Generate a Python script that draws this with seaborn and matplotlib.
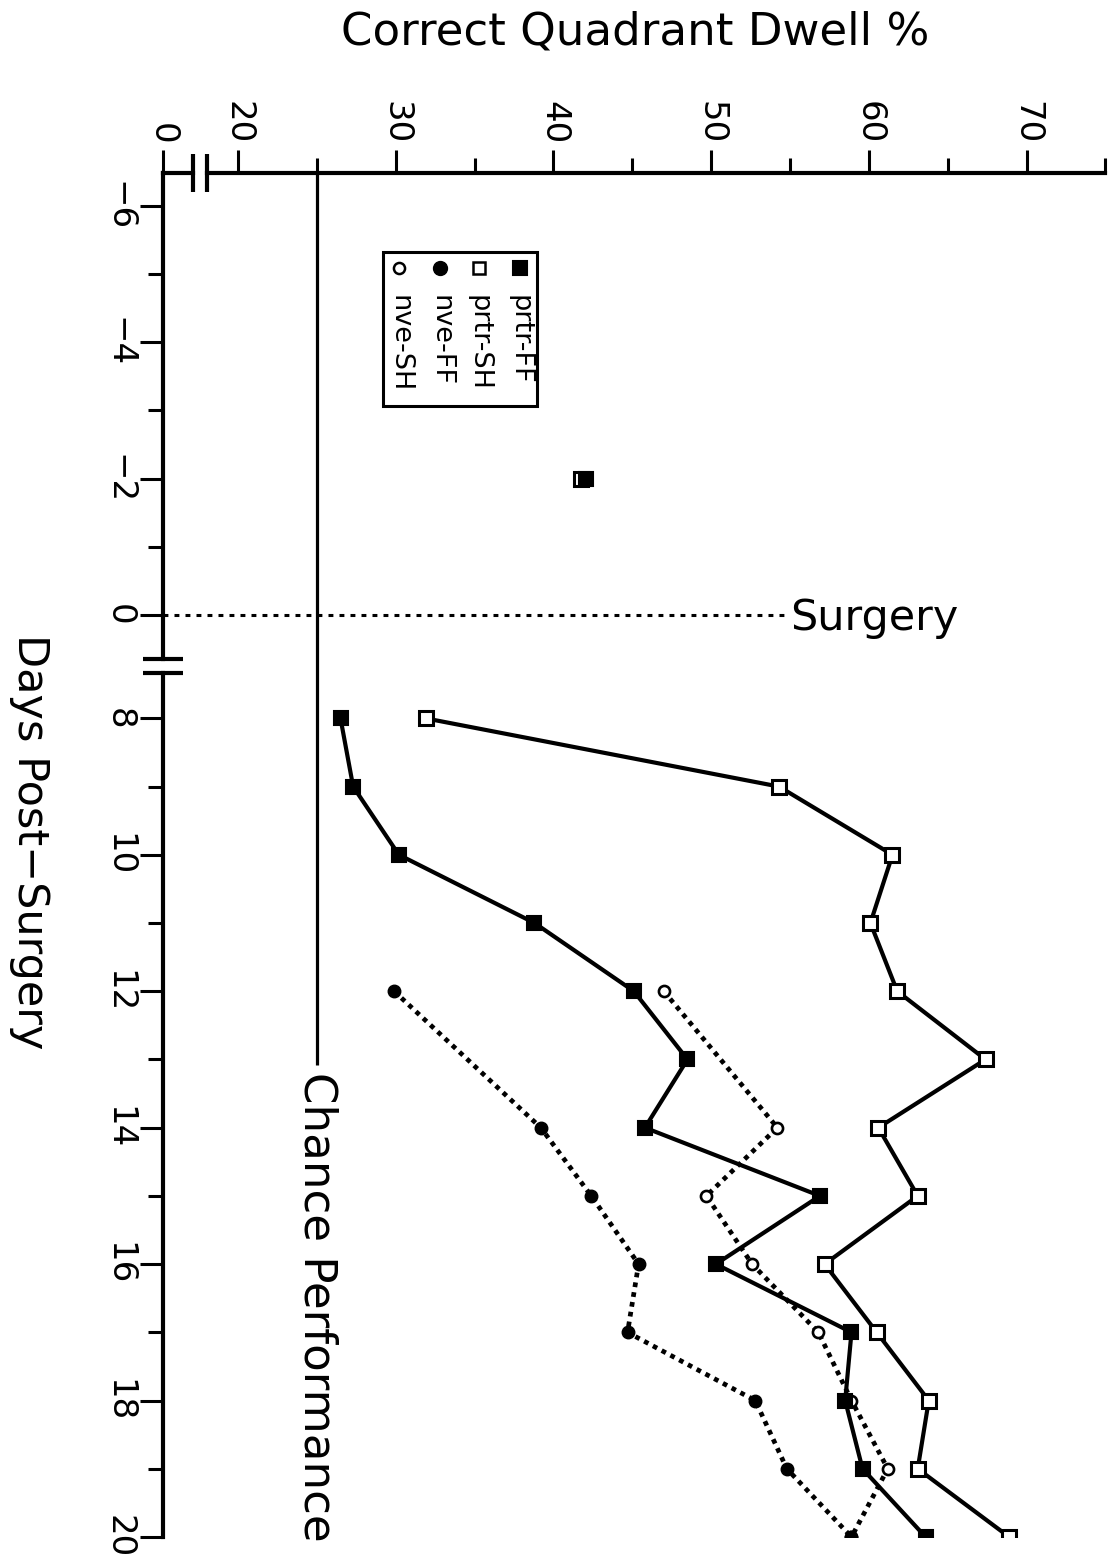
import numpy as np
import pandas as pd
import matplotlib
matplotlib.use("Agg")
import matplotlib.pyplot as plt
from matplotlib.patches import Rectangle
import seaborn as sns

# ---------------- data ----------------
days_pre = [-2]
prtr_ff_pre = [42.06]
prtr_sh_pre = [41.76]

days_prtr = [8, 9, 10, 11, 12, 13, 14, 15, 16, 17, 18, 19, 20]
prtr_ff = [26.5, 27.3, 30.2, 38.8, 45.1, 48.5, 45.8, 56.9, 50.3, 58.9, 58.5, 59.6, 63.6]
prtr_sh = [31.9, 54.3, 61.5, 60.1, 61.8, 67.4, 60.6, 63.1, 57.2, 60.5, 63.8, 63.1, 68.9]

days_nve = [12, 14, 15, 16, 17, 18, 19, 20]
nve_ff = [29.9, 39.2, 42.4, 45.4, 44.7, 52.8, 54.8, 58.9]
nve_sh = [47.0, 54.2, 49.7, 52.6, 56.8, 58.9, 61.2, 58.9]

series_names = ["prtr-FF", "prtr-SH", "nve-FF", "nve-SH"]
chance_level = 25
surgery_day = 0

x_major = [0, 20, 30, 40, 50, 60, 70]
x_minor = [25, 35, 45, 55, 65, 75]
y_major = [-6, -4, -2, 0, 8, 10, 12, 14, 16, 18, 20]
y_minor = [-5, -3, -1, 9, 11, 13, 15, 17, 19]
y_major_labels = ["\u22126", "\u22124", "\u22122", "0", "8", "10", "12", "14", "16", "18", "20"]

# ---------------- broken scales ----------------
XB, XS = 15.225, 4.775   # 0..20 compressed


def fwd_x(x):
    x = np.asarray(x, dtype=float)
    return np.where(x < 20, XB + x * XS / 20.0, x)


def inv_x(t):
    t = np.asarray(t, dtype=float)
    return np.where(t < 20, (t - XB) * 20.0 / XS, t)


YG = 1.514  # 0..8 days compressed


def fwd_y(d):
    d = np.asarray(d, dtype=float)
    return np.where(d <= 0, d, np.where(d < 8, d * YG / 8.0, d - 8 + YG))


def inv_y(t):
    t = np.asarray(t, dtype=float)
    return np.where(t <= 0, t, np.where(t < YG, t * 8.0 / YG, t + 8 - YG))


sns.set_theme(style="ticks")
plt.rcParams["font.family"] = ["DejaVu Sans"]
plt.rcParams["text.color"] = "black"
plt.rcParams["xtick.color"] = "black"
plt.rcParams["ytick.color"] = "black"

fig = plt.figure(figsize=(11.13, 15.61), dpi=100)
ax = fig.add_axes([0.14618, 0.015375, 0.84699, 0.87380])
ax.set_xscale("function", functions=(fwd_x, inv_x))
ax.set_yscale("function", functions=(fwd_y, inv_y))

styles = {
    "nve-SH": dict(marker="o", markersize=8, markerfacecolor="white", markeredgewidth=1.9,
                   linestyle=(0, (1, 1.1)), linewidth=3.4),
    "nve-FF": dict(marker="o", markersize=9, markerfacecolor="black", markeredgewidth=1.0,
                   linestyle=(0, (1, 1.1)), linewidth=3.4),
    "prtr-SH": dict(marker="s", markersize=9.5, markerfacecolor="white", markeredgewidth=2.2,
                    linestyle="-", linewidth=3.0),
    "prtr-FF": dict(marker="s", markersize=10, markerfacecolor="black", markeredgewidth=1.5,
                    linestyle="-", linewidth=3.0),
}
post = {
    "nve-SH": (days_nve, nve_sh),
    "nve-FF": (days_nve, nve_ff),
    "prtr-SH": (days_prtr, prtr_sh),
    "prtr-FF": (days_prtr, prtr_ff),
}
pre = {"prtr-SH": (days_pre, prtr_sh_pre), "prtr-FF": (days_pre, prtr_ff_pre)}

for name in ["nve-SH", "nve-FF", "prtr-SH", "prtr-FF"]:
    d, v = post[name]
    df = pd.DataFrame({"dwell": v, "day": d})
    sns.lineplot(data=df, x="dwell", y="day", orient="y", sort=False, estimator=None,
                 ax=ax, color="black", markeredgecolor="black", **styles[name])

for name in ["prtr-SH", "prtr-FF"]:
    d, v = pre[name]
    st = styles[name]
    df = pd.DataFrame({"dwell": v, "day": d})
    sns.lineplot(data=df, x="dwell", y="day", orient="y", sort=False, estimator=None,
                 ax=ax, color="black", markeredgecolor="black",
                 marker=st["marker"], markersize=st["markersize"],
                 markerfacecolor=st["markerfacecolor"], markeredgewidth=st["markeredgewidth"],
                 linestyle="none")

ax.set_xlim(0, 75)
y_top = -6.48
ax.set_ylim(20, y_top)
ax.set_xlabel("")
ax.set_ylabel("")
ax.grid(False)

# chance line and label
chance_end = 13.08
ax.plot([chance_level, chance_level], [y_top, chance_end], color="black", lw=2.3,
        solid_capstyle="butt", clip_on=False)
ax.text(chance_level, 13.19, "Chance Performance", rotation=-90, ha="center", va="top",
        fontsize=32.5, color="black")

# surgery line and label
ax.plot([0, 54.7], [surgery_day, surgery_day], color="black", lw=2.2,
        linestyle=(0, (1.6, 2.0)))
ax.text(55.0, 1.16, "Surgery", ha="left", va="baseline", fontsize=31, color="black")

# ---------------- axes lines with breaks ----------------
for s in ax.spines.values():
    s.set_visible(False)
lw_ax = 3.0
kw = dict(color="black", lw=lw_ax, clip_on=False, solid_capstyle="projecting", zorder=5)
ax.plot([0, 8.13], [y_top, y_top], **kw)
ax.plot([11.84, 75], [y_top, y_top], **kw)
ax.plot([0, 0], [y_top, 3.41], **kw)
ax.plot([0, 0], [4.52, 20], **kw)
kwb = dict(color="black", lw=lw_ax, clip_on=False, solid_capstyle="butt", zorder=5)
for xb in [8.13, 11.84]:
    ax.plot([xb, xb], [-6.76, -6.207], **kwb)
for yb in [3.41, 4.52]:
    ax.plot([-5.15, 5.31], [yb, yb], **kwb)

# ---------------- ticks ----------------
ax.set_xticks(x_major)
ax.set_xticklabels([str(v) for v in x_major])
ax.set_xticks(x_minor, minor=True)
ax.set_yticks(y_major)
ax.set_yticklabels(y_major_labels)
ax.set_yticks(y_minor, minor=True)
ax.xaxis.set_ticks_position("top")
ax.tick_params(axis="x", which="both", direction="out", top=True, bottom=False,
               labeltop=True, labelbottom=False, width=2.2, color="black",
               labelcolor="black")
ax.tick_params(axis="x", which="major", length=16.5, labelsize=24.5, pad=4,
               labelrotation=-90)
ax.tick_params(axis="x", which="minor", length=11)
ax.tick_params(axis="y", which="both", direction="out", left=True, right=False,
               width=2.2, color="black", labelcolor="black")
ax.tick_params(axis="y", which="major", length=16.5, labelsize=24.5, pad=3,
               labelrotation=-90)
ax.tick_params(axis="y", which="minor", length=11)
for lab in ax.get_yticklabels():
    lab.set_va("center")
    lab.set_ha("right")

# ---------------- manual rotated legend ----------------
ax.add_patch(Rectangle((0.2334, 0.8292), 0.3967 - 0.2334, 0.9423 - 0.8292,
                       transform=ax.transAxes, fill=False, edgecolor="black",
                       lw=2.2, zorder=6, clip_on=False))
leg_x = {"nve-SH": 0.2507, "nve-FF": 0.2942, "prtr-SH": 0.3355, "prtr-FF": 0.3790}
leg_ms = {"nve-SH": 8.0, "nve-FF": 10.0, "prtr-SH": 8.5, "prtr-FF": 10.0}
for name in series_names:
    st = styles[name]
    ax.plot([leg_x[name]], [0.9304], transform=ax.transAxes, marker=st["marker"],
            markersize=leg_ms[name], markerfacecolor=st["markerfacecolor"],
            markeredgecolor="black", markeredgewidth=min(st["markeredgewidth"], 1.8),
            linestyle="none", clip_on=False, zorder=7)
    ax.text(leg_x[name], 0.9106, name, transform=ax.transAxes, rotation=-90,
            ha="center", va="top", fontsize=19.5, color="black", zorder=7)

# ---------------- axis titles ----------------
fig.text(635 / 1113, 1 - 45 / 1561, "Correct Quadrant Dwell %", ha="center",
         va="baseline", fontsize=32.5, color="black")
fig.text(30 / 1113, 1 - 842 / 1561, "Days Post\u2212Surgery", rotation=-90,
         ha="center", va="center", fontsize=31, color="black")

fig.savefig("out.png", dpi=100, facecolor="white")
